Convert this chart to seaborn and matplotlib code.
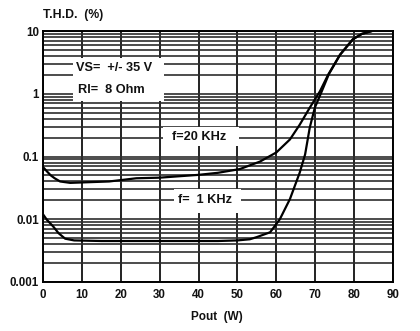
import numpy as np
import pandas as pd
import seaborn as sns
import matplotlib
matplotlib.use("Agg")
import matplotlib.pyplot as plt
from matplotlib.patches import Rectangle
from matplotlib.ticker import LogLocator, FixedLocator, NullFormatter

# ---- data ----
pout_20k = [0, 1, 2, 3, 4.4, 7, 12, 17, 24, 30, 40, 45, 50.6, 55.8, 60, 63.5,
            66, 68.6, 71.2, 73.3, 76.4, 79.7, 82, 84.6]
thd_20k = [0.068, 0.058, 0.050, 0.045, 0.040, 0.038, 0.039, 0.040, 0.045, 0.046,
           0.051, 0.055, 0.063, 0.083, 0.116, 0.187, 0.32, 0.60, 1.09, 2.0, 4.2,
           7.4, 9.0, 10.0]

pout_1k = [0, 1, 2.6, 4, 5.7, 8, 15, 30, 45, 50, 53.2, 55, 58.4, 60.9, 63.5,
           66, 67.4, 68.6, 69.9, 71.7, 73.5, 76.4, 79.7, 82, 84.6]
thd_1k = [0.012, 0.0098, 0.0077, 0.0060, 0.0049, 0.0046, 0.0045, 0.0045, 0.0045,
          0.0046, 0.0048, 0.0052, 0.0062, 0.010, 0.021, 0.055, 0.108, 0.29, 0.6,
          1.1, 2.05, 4.2, 7.4, 9.0, 10.0]

x_ticks = [0, 10, 20, 30, 40, 50, 60, 70, 80, 90]
y_ticks = [0.001, 0.01, 0.1, 1, 10]
y_tick_labels = ["0.001", "0.01", "0.1", "1", "10"]

df = pd.concat([
    pd.DataFrame({"Pout": pout_20k, "THD": thd_20k, "f": "f=20 KHz"}),
    pd.DataFrame({"Pout": pout_1k, "THD": thd_1k, "f": "f= 1 KHz"}),
])

sns.set_theme(style="white")
plt.rcParams["font.family"] = ["Liberation Sans", "DejaVu Sans"]

fig = plt.figure(figsize=(4.2, 3.31), dpi=100)
ax = fig.add_axes([43 / 420, 1 - 282 / 331, 350 / 420, 251 / 331])

sns.lineplot(data=df, x="Pout", y="THD", hue="f", palette=["black", "black"],
             linewidth=1.6, legend=False, ax=ax, zorder=5)

ax.set_yscale("log")
ax.set_xlim(0, 90)
ax.set_ylim(0.001, 10)

# grid
ax.xaxis.set_major_locator(FixedLocator(x_ticks))
ax.set_xticklabels([str(v) for v in x_ticks])
ax.yaxis.set_major_locator(FixedLocator(y_ticks))
ax.set_yticklabels(y_tick_labels)
ax.yaxis.set_minor_locator(LogLocator(base=10, subs=np.arange(2, 10)))
ax.yaxis.set_minor_formatter(NullFormatter())
ax.grid(True, axis="x", which="major", color="#111111", linewidth=1.3, zorder=1)
ax.grid(True, axis="y", which="both", color="#2e2e2e", linewidth=1.2, zorder=1)
ax.set_axisbelow(True)

ax.tick_params(axis="both", which="both", length=0)
ax.tick_params(axis="x", pad=5, labelsize=8.3)
ax.tick_params(axis="y", pad=3, labelsize=8.3)
for lab in ax.get_xticklabels() + ax.get_yticklabels():
    lab.set_fontweight("bold")
    lab.set_color("#111111")

for s in ax.spines.values():
    s.set_color("black")
    s.set_linewidth(1.4)

ax.set_xlabel("")
ax.set_ylabel("")

# white label boxes
def box(x0, x1, y0, y1):
    ax.add_patch(Rectangle((x0, y0), x1 - x0, y1 - y0, facecolor="white",
                           edgecolor="none", zorder=3))

box(7.6, 31.0, 0.76, 3.7)
box(30.8, 50.5, 0.145, 0.29)
box(33.8, 51.0, 0.0127, 0.030)

tkw = dict(fontsize=9.2, fontweight="bold", color="#111111", zorder=4, va="center")
ax.text(8.6, 2.55, "VS=  +/- 35 V", ha="left", **tkw)
ax.text(9.0, 1.15, "Rl=  8 Ohm", ha="left", **tkw)
ax.text(33.3, 0.205, "f=20 KHz", ha="left", **tkw)
ax.text(34.6, 0.0205, "f=  1 KHz", ha="left", **tkw)

fig.text(43 / 420, 1 - 15 / 331, "T.H.D.  (%)", ha="left", va="center",
         fontsize=8.8, fontweight="bold", color="#111111")
fig.text(217 / 420, 1 - 317 / 331, "Pout  (W)", ha="center", va="center",
         fontsize=8.5, fontweight="bold", color="#111111")

fig.savefig("out.png", dpi=100, facecolor="white")
